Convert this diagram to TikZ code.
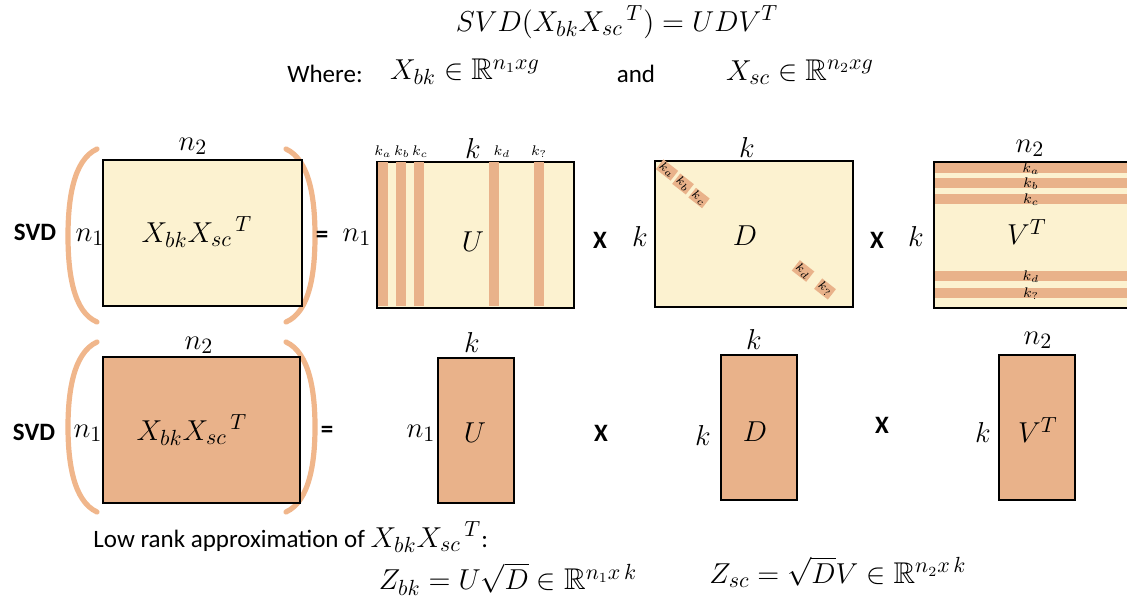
\documentclass[tikz,border=0pt]{standalone}
\usepackage{fontspec}
\setmainfont{Carlito}
\usepackage{amssymb}
\usetikzlibrary{positioning}

\definecolor{svdLight}{HTML}{FCF2D0}
\definecolor{svdDark}{HTML}{E9B28A}
\definecolor{svdBrace}{HTML}{F0B68B}

\begin{document}
\begin{tikzpicture}[x=0.5pt, y=-0.5pt, font=\fontsize{12.5}{15}\selectfont,
  mat/.style={draw=black, line width=0.9pt, inner sep=0pt, anchor=north west},
  matlight/.style={mat, fill=svdLight},
  matdark/.style={mat, fill=svdDark},
  mathlab/.style={font=\fontsize{15}{18}\selectfont, inner sep=1pt},
  oplab/.style={font=\fontsize{12.5}{15}\selectfont\bfseries, inner sep=1pt},
  klab/.style={font=\fontsize{7}{8}\selectfont, inner sep=0pt},
  ktag/.style={font=\fontsize{6}{7}\selectfont, fill=svdDark, inner sep=0.5pt, rotate=-38},
  bracket/.style={draw=svdBrace, line width=2.6pt, line cap=round}]
\clip (0,0) rectangle (1127,603);
% header
\node[mathlab] (title) at (617,22) {$SVD(X_{bk}X_{sc}{}^{\,T}) = UDV^{T}$};
\node (where) at (325,74) {Where:};
\node[mathlab] (xbkdim) at (465,72) {$X_{bk} \in \mathbb{R}^{n_1xg}$};
\node (and) at (636,74) {and};
\node[mathlab] (xscdim) at (800,72) {$X_{sc} \in \mathbb{R}^{n_2xg}$};

% full decomposition
\draw[bracket] (97,149) .. controls (73,160) and (68,200) .. (68,236)
  .. controls (68,272) and (73,312) .. (97,322);
\draw[bracket] (286,149) .. controls (310,160) and (315,200) .. (315,236)
  .. controls (315,272) and (310,312) .. (286,322);
\node[matlight, minimum width=99.5pt, minimum height=73pt] (xa) at (102,159) {};
\node[matlight, minimum width=98.5pt, minimum height=73pt] (ua) at (376,161) {};
\node[matlight, minimum width=99pt, minimum height=73pt] (da) at (654,160) {};
\node[matlight, minimum width=99pt, minimum height=73pt] (va) at (933,161) {};
% columns of U
\foreach \sx/\lx/\sl [count=\i] in {378/383/a,396/402/b,414/420/c,489/502/d,534/539/?} {
  \fill[svdDark] (\sx,162) rectangle ++(10,144);
  \node[klab] (uk\i) at (\lx,152) {$k_{\sl}$};
}
% rows of V^T
\foreach \sy/\sl [count=\i] in {163/a,178/b,194/c,271/d,288/?} {
  \fill[svdDark] (935,\sy) rectangle (1127,\sy+10.5);
  \node[klab] (vk\i) at (1031,\sy+6) {$k_{\sl}$};
}
% diagonal of D
\foreach \tx/\ty/\sl [count=\i] in {667/170/a,683/184/b,699/198/c,803/271/d,825/289/?}
  \node[ktag] (dk\i) at (\tx,\ty) {$k_{\sl}$};
% labels
\node[oplab] (svda) at (35,232) {SVD};
\node[mathlab] (xan1) at (90,237) {$n_1$};
\node[mathlab] (xan2) at (193,146) {$n_2$};
\node[mathlab] (xatxt) at (197,232) {$X_{bk}X_{sc}{}^{\,T}$};
\node[oplab] (eqa) at (322,237) {=};
\node[mathlab] (uan1) at (357,237) {$n_1$};
\node[mathlab] (uak) at (473,149) {$k$};
\node[mathlab] (uatxt) at (473,242) {$U$};
\node[oplab] (mula) at (600,240) {X};
\node[mathlab] (dak1) at (640,237) {$k$};
\node[mathlab] (dak2) at (747,148) {$k$};
\node[mathlab] (datxt) at (745,236) {$D$};
\node[oplab] (mulb) at (877,240) {X};
\node[mathlab] (vak) at (916,237) {$k$};
\node[mathlab] (van2) at (1030,148) {$n_2$};
\node[mathlab] (vatxt) at (1027,232) {$V^{T}$};

% truncated decomposition
\draw[bracket] (97,342) .. controls (73,353) and (68,393) .. (68,427)
  .. controls (68,461) and (73,501) .. (97,512);
\draw[bracket] (286,342) .. controls (310,353) and (315,393) .. (315,427)
  .. controls (315,461) and (310,501) .. (286,512);
\node[matdark, minimum width=98.5pt, minimum height=73pt] (xb) at (102,356) {};
\node[matdark, minimum width=38pt, minimum height=72.5pt] (ub) at (437,357) {};
\node[matdark, minimum width=38pt, minimum height=72.5pt] (db) at (720,354) {};
\node[matdark, minimum width=38pt, minimum height=72.5pt] (vb) at (998,354) {};
% labels
\node[oplab] (svdb) at (34,432) {SVD};
\node[mathlab] (xbn1) at (88,433) {$n_1$};
\node[mathlab] (xbn2) at (199,345) {$n_2$};
\node[mathlab] (xbtxt) at (192,430) {$X_{bk}X_{sc}{}^{\,T}$};
\node[oplab] (eqb) at (327,432) {=};
\node[mathlab] (ubn1) at (421,433) {$n_1$};
\node[mathlab] (ubk) at (472,343) {$k$};
\node[mathlab] (ubtxt) at (475,433) {$U$};
\node[oplab] (mulc) at (601,433) {X};
\node[mathlab] (dbk1) at (703,435) {$k$};
\node[mathlab] (dbk2) at (754,340) {$k$};
\node[mathlab] (dbtxt) at (755,432) {$D$};
\node[oplab] (muld) at (882,425) {X};
\node[mathlab] (vbk) at (983,432) {$k$};
\node[mathlab] (vbn2) at (1038,340) {$n_2$};
\node[mathlab] (vbtxt) at (1038,430) {$V^{T}$};

% low rank
\node[anchor=west, inner sep=0pt] (lowrank) at (93,537)
  {Low rank approximation of {\fontsize{15}{18}\selectfont$X_{bk}X_{sc}{}^{\,T}$}:};
\node[mathlab, inner sep=0pt] (zbk) at (508,579) {$Z_{bk} = U\sqrt{D} \in \mathbb{R}^{n_1x\,k}$};
\node[mathlab, inner sep=0pt] (zsc) at (838,572) {$Z_{sc} = \sqrt{D}V \in \mathbb{R}^{n_2x\,k}$};
\end{tikzpicture}
\end{document}
